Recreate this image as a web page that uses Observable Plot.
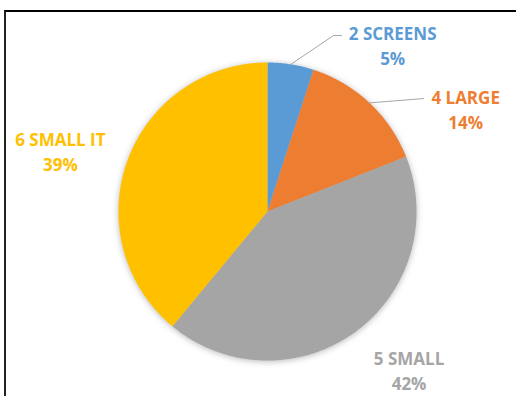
<!DOCTYPE html>
<html>
<head>
<meta charset="utf-8">
<script src="https://cdn.jsdelivr.net/npm/d3@7"></script>
<script src="https://cdn.jsdelivr.net/npm/@observablehq/plot@0.6"></script>
<style>
  html, body { margin: 0; padding: 0; background: #fff; }
  #frame { position: relative; width: 516px; height: 396px; overflow: hidden; }
  #frame .edge { position: absolute; left: 4px; top: 10px; width: 520px; height: 400px;
    border-top: 2px solid #000; border-left: 2px solid #222; box-sizing: border-box; pointer-events: none; }
  #chart svg { display: block; }
</style>
</head>
<body>
<div id="frame"><div id="chart"></div><div class="edge"></div></div>
<script>
// Device share by category (percent), clockwise from 12 o'clock
const categories = ["2 SCREENS", "4 LARGE", "5 SMALL", "6 SMALL IT"];
const shares = [5, 14, 42, 39];
const colors = ["#5B9BD5", "#ED7D31", "#A5A5A5", "#FFC000"];

// Label placement, in units of the pie radius (centre = 0,0)
const labelX = [0.84, 1.33, 0.95, -1.39];
const labelY = [1.12, 0.69, -1.06, 0.41];
// Leader-line elbows for the labels that need one (radius units)
const leaderBends = {
  "2 SCREENS": [[0.443, 1.181], [0.497, 1.181]],
  "4 LARGE": [[1.047, 0.758]]
};

const pie = d3.pie().sort(null).value(d => d.share)
  .startAngle(0).endAngle(2 * Math.PI);
const arcs = pie(categories.map((name, i) => ({name, share: shares[i]})));

// Each slice as a closed polygon: centre, then points along its arc
const slicePts = [];
for (const a of arcs) {
  slicePts.push({name: a.data.name, x: 0, y: 0});
  const n = Math.max(2, Math.ceil((a.endAngle - a.startAngle) / (Math.PI / 360)));
  for (let k = 0; k <= n; k++) {
    const t = a.startAngle + (a.endAngle - a.startAngle) * k / n;
    slicePts.push({name: a.data.name, x: Math.sin(t), y: Math.cos(t)});
  }
  slicePts.push({name: a.data.name, x: 0, y: 0});
}

// Leader lines start on the rim at each slice's mid-angle
const leaderPts = [];
for (const a of arcs) {
  const bends = leaderBends[a.data.name];
  if (!bends) continue;
  const m = (a.startAngle + a.endAngle) / 2;
  leaderPts.push({name: a.data.name, x: Math.sin(m), y: Math.cos(m)});
  for (const [x, y] of bends) leaderPts.push({name: a.data.name, x, y});
}

const labels = categories.map((name, i) => ({
  name, pct: shares[i], x: labelX[i], y: labelY[i]
}));

const cx = 267, cy = 211, r = 149;
const chart = Plot.plot({
  width: 516,
  height: 396,
  margin: 0,
  style: {background: "transparent", fontFamily: "'Open Sans', Lato, sans-serif"},
  x: {domain: [-1, 1], range: [cx - r, cx + r], axis: null},
  y: {domain: [-1, 1], range: [cy + r, cy - r], axis: null},
  color: {domain: categories, range: colors},
  marks: [
    Plot.line(slicePts, {x: "x", y: "y", z: "name", fill: "name", stroke: "none", curve: "linear"}),
    Plot.line(leaderPts, {x: "x", y: "y", z: "name", stroke: "#A6A6A6", strokeWidth: 1}),
    Plot.text(labels, {
      x: "x", y: "y",
      text: d => `${d.name}\n${d.pct}%`,
      fill: "name",
      fontSize: 17,
      fontWeight: 700,
      lineHeight: 1.48,
      textAnchor: "middle"
    })
  ]
});

// soft shadow under the pie
const sliceGroup = chart.querySelector('g[aria-label="line"]');
if (sliceGroup) sliceGroup.style.filter = "drop-shadow(0px 1px 3px rgba(0,0,0,0.28))";

document.getElementById("chart").appendChild(chart);
</script>
</body>
</html>
